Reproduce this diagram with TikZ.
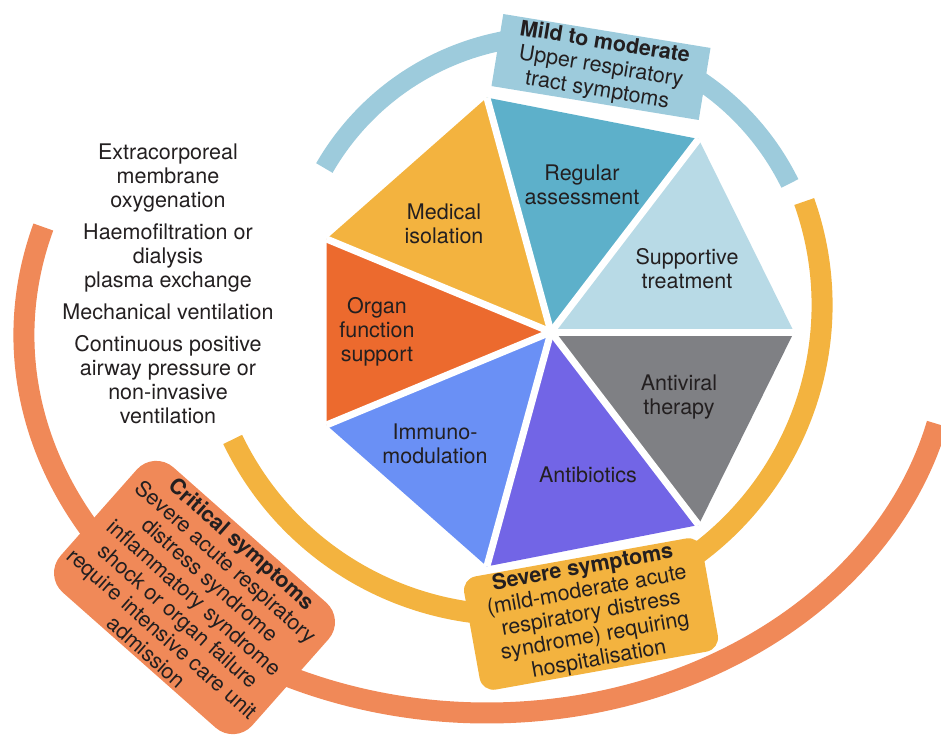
\documentclass[tikz,border=0pt]{standalone}
\usepackage{fontspec}
\setmainfont{TeX Gyre Heros}
\definecolor{mildc}{HTML}{9DCBDC}
\definecolor{severec}{HTML}{F3B33F}
\definecolor{critc}{HTML}{F08958}
\definecolor{regularc}{HTML}{5DB0CA}
\definecolor{suppc}{HTML}{B8DAE6}
\definecolor{antivc}{HTML}{7F8084}
\definecolor{antibc}{HTML}{7265E6}
\definecolor{immunoc}{HTML}{6A90F5}
\definecolor{organc}{HTML}{EC6A2E}
\definecolor{txt}{HTML}{231F20}
\tikzset{
  lbl/.style={align=center,text=txt,inner sep=0pt,
    font=\fontsize{21.5}{24}\selectfont},
  band/.style={line width=21pt},
  stagebox/.style={lbl,minimum width=#1,anchor=center}
}
\begin{document}
\begin{tikzpicture}[x=1pt,y=-1pt]
\useasboundingbox (0,0) rectangle (941,742);
\clip (0,0) rectangle (941,742);
% stage arcs
\draw[band,line width=19pt,mildc] (553,300) ++(-150:264) arc[start angle=-150,end angle=-26.2,radius=264];
\draw[band,severec] (512,305) ++(-19.5:310) arc[start angle=-19.5,end angle=154.3,radius=310];
\draw[band,critc] (487,335) ++(196.6:463 and 378) arc[start angle=196.6,end angle=13.6,x radius=463,y radius=378];
% stage boxes
\node[stagebox=210pt,fill=mildc,minimum height=73pt,rotate=-9.3] (mild) at (601,67)
  {\textbf{Mild to moderate}\\Upper respiratory\\tract symptoms};
\node[stagebox=242pt,fill=severec,minimum height=115pt,rounded corners=14pt,rotate=10.2,
  font=\fontsize{21.5}{23.2}\selectfont] (severe) at (591,614)
  {\textbf{Severe symptoms}\\(mild-moderate acute\\respiratory distress\\syndrome) requiring\\hospitalisation};
\node[stagebox=256pt,fill=critc,minimum height=167pt,rounded corners=26pt,rotate=-41.5] (critical) at (194.5,597.5)
  {\textbf{Critical symptoms}\\Severe acute respiratory\\distress syndrome\\inflammatory syndrome\\shock or organ failure\\require intensive care unit\\admission};
% treatment wheel
\begin{scope}[shift={(551,332)}]
  \foreach \a/\b/\c in {-52.6/0/suppc,-105.3/-52.6/regularc,-157.5/-105.3/severec,
      157.5/202.5/organc,105.3/157.5/immunoc,52.6/105.3/antibc,0/52.6/antivc}
    \fill[\c] (0,0) -- (\a:243) -- (\b:243) -- cycle;
  \foreach \a in {0,52.6,105.3,157.5,-157.5,-105.3,-52.6}
    \draw[white,line width=7pt] (0,0) -- (\a:243);
\end{scope}
\node[lbl] (isolation) at (444,223.5) {Medical\\isolation};
\node[lbl] (assess) at (582,184.5) {Regular\\assessment};
\node[lbl] (supportive) at (687,269) {Supportive\\treatment};
\node[lbl] (antiviral) at (679,397) {Antiviral\\therapy};
\node[lbl] (antibiotics) at (588,475) {Antibiotics};
\node[lbl] (immuno) at (435,444) {Immuno-\\modulation};
\node[lbl] (organ) at (377,331.5) {Organ\\function\\support};
% critical care measures
\node[lbl] (measures) at (168,284) {Extracorporeal\\membrane\\oxygenation\\[8pt]Haemofiltration or\\dialysis\\plasma exchange\\[8pt]Mechanical ventilation\\[8pt]Continuous positive\\airway pressure or\\non-invasive\\ventilation};
\end{tikzpicture}
\end{document}
